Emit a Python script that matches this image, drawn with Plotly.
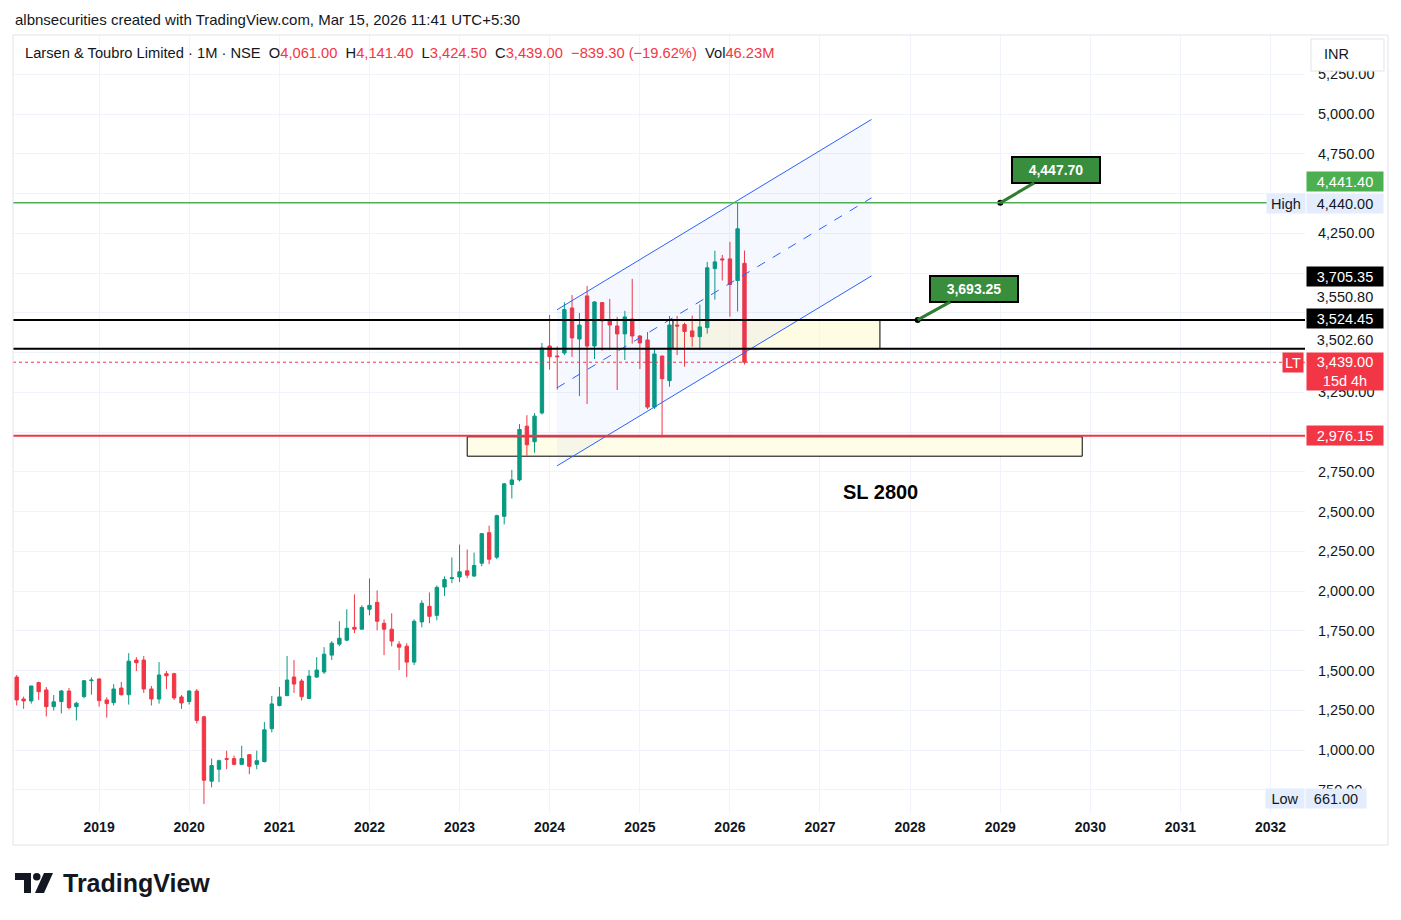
import pandas as pd
import plotly.graph_objects as go

# ---------------- data (monthly OHLC, Larsen & Toubro, NSE) ----------------
months = pd.date_range("2018-02-01", periods=98, freq="MS")

opens = [1459, 1321, 1309, 1424, 1378, 1273, 1305, 1371, 1273, 1336, 1436,
         1447, 1315, 1298, 1390, 1348, 1566, 1566, 1384, 1321, 1480, 1480, 1334,
         1305, 1371, 1209, 804, 879, 946, 946, 910, 971, 910, 927, 1134,
         1280, 1342, 1459, 1434, 1324, 1459, 1491, 1597, 1666, 1691, 1772, 1760,
         1885, 1929, 1797, 1760, 1666, 1653, 1553, 1806, 1904, 1847, 2025, 2079,
         2088, 2127, 2094, 2175, 2367, 2213, 2470, 2670, 2699, 3037, 2939, 3120,
         3541, 3478, 3497, 3780, 3585, 3856, 3541, 3814, 3705, 3667, 3617, 3711,
         3604, 3579, 3157, 3478, 3323, 3673, 3676, 3636, 3600, 3657, 4028, 4089,
         4089, 3953, 4061]
highs = [1472, 1336, 1403, 1430, 1396, 1346, 1378, 1390, 1303, 1440, 1457,
         1450, 1332, 1415, 1428, 1609, 1584, 1591, 1403, 1553, 1497, 1486, 1346,
         1378, 1384, 1215, 946, 940, 996, 965, 1027, 971, 996, 1177, 1340,
         1397, 1591, 1566, 1447, 1503, 1584, 1647, 1685, 1810, 1885, 1979, 1910,
         2079, 2004, 1822, 1860, 1685, 1672, 1822, 1941, 1991, 2035, 2092, 2211,
         2292, 2261, 2242, 2365, 2411, 2480, 2680, 2762, 3050, 3106, 3119, 3560,
         3736, 3539, 3816, 3862, 3749, 3919, 3824, 3818, 3837, 3724, 3762, 3963,
         3610, 3629, 3522, 3480, 3730, 3730, 3688, 3732, 3802, 4070, 4140, 4114,
         4196, 4441.4, 4141.4]
lows = [1280, 1259, 1292, 1315, 1211, 1248, 1230, 1255, 1186, 1326, 1348,
        1273, 1204, 1280, 1342, 1286, 1497, 1359, 1280, 1292, 1384, 1315, 1259,
        1286, 1167, 661, 766, 798, 879, 904, 910, 848, 879, 923, 1111,
        1275, 1342, 1359, 1311, 1324, 1453, 1478, 1566, 1653, 1685, 1735, 1760,
        1847, 1753, 1597, 1653, 1503, 1459, 1534, 1772, 1797, 1816, 1969, 2050,
        2056, 2081, 2090, 2156, 2169, 2200, 2419, 2582, 2689, 2851, 2870, 3110,
        3392, 3266, 3484, 3472, 3226, 3176, 3459, 3512, 3516, 3264, 3453, 3556,
        3396, 3144, 3145, 2967, 3285, 3484, 3411, 3537, 3518, 3619, 3833, 3953,
        3726, 3758, 3424.5]
closes = [1315, 1309, 1403, 1367, 1273, 1303, 1371, 1267, 1294, 1436, 1440,
          1311, 1292, 1384, 1348, 1559, 1549, 1384, 1321, 1472, 1467, 1328, 1296,
          1371, 1186, 810, 902, 933, 942, 910, 946, 898, 933, 1127, 1290,
          1334, 1440, 1415, 1336, 1465, 1503, 1603, 1672, 1703, 1766, 1760, 1897,
          1910, 1810, 1760, 1685, 1647, 1553, 1810, 1923, 1841, 2023, 2073, 2083,
          2121, 2100, 2161, 2361, 2200, 2474, 2674, 2699, 3016, 2920, 3100, 3529,
          3474, 3474, 3770, 3592, 3673, 3541, 3818, 3699, 3673, 3617, 3724, 3604,
          3560, 3157, 3491, 3335, 3673, 3667, 3632, 3600, 3661, 4033, 4070, 4083,
          3928, 4278.3, 3439]

year_ticks = ["2019", "2020", "2021", "2022", "2023", "2024", "2025",
              "2026", "2027", "2028", "2029", "2030", "2031", "2032"]
price_ticks = [750, 1000, 1250, 1500, 1750, 2000, 2250, 2500, 2750, 3000,
               3250, 3500, 3750, 4000, 4250, 4500, 4750, 5000, 5250]
# grid values whose scale labels are hidden behind the price-scale markers
hidden_ticks = [3000, 3500, 3750, 4000, 4500]

# drawing levels / tool values
level_high = 4441.40
level_black_top = 3705.35
level_black_bot = 3524.45
level_red = 2976.15
last_price = 3439.00
all_time_low = 661.00
chan_x = ["2024-01-31", "2027-07-29"]
chan_upper = [3769, 4966]
chan_mid = [3278, 4473]
chan_lower = [2787, 3982]
zone_big = dict(x0="2023-02-01", x1="2029-11-29", y0=2970, y1=2848)
zone_small = dict(x0="2025-05-15", x1="2027-09-01")
callout1 = dict(x="2029-01-01", y=4441.4, text="4,447.70")
callout2 = dict(x="2028-02-01", y=3705.35, text="3,693.25")

# ---------------- helpers (pixel -> paper) ----------------
L, R, T, B = 13, 1305, 35, 813
def px(x):
    return (x - L) / (R - L)
def py(y):
    return (B - y) / (B - T)

GREEN = "#089981"
RED = "#f23645"
TXT = "#131722"
FONT = "Liberation Sans"
SCALE_FS = 14.5

fig = go.Figure()

# channel fill (parallelogram)
fig.add_trace(go.Scatter(
    x=[chan_x[0], chan_x[1], chan_x[1], chan_x[0], chan_x[0]],
    y=[chan_upper[0], chan_upper[1], chan_lower[1], chan_lower[0], chan_upper[0]],
    fill="toself", fillcolor="rgba(41,98,255,0.045)", line=dict(width=0),
    mode="lines", hoverinfo="skip", showlegend=False))

fig.add_trace(go.Candlestick(
    x=months, open=opens, high=highs, low=lows, close=closes,
    increasing=dict(line=dict(color=GREEN, width=1), fillcolor=GREEN),
    decreasing=dict(line=dict(color=RED, width=1), fillcolor=RED),
    whiskerwidth=0, showlegend=False, name="LT"))

# channel lines
for ys, dash in [(chan_upper, "solid"), (chan_mid, "dash"), (chan_lower, "solid")]:
    fig.add_trace(go.Scatter(x=chan_x, y=ys, mode="lines",
                             line=dict(color="#2962ff", width=1, dash=dash),
                             hoverinfo="skip", showlegend=False))

# callout tip dots
fig.add_trace(go.Scatter(x=[callout1["x"], callout2["x"]],
                         y=[callout1["y"], callout2["y"]], mode="markers",
                         marker=dict(color="black", size=6), hoverinfo="skip",
                         showlegend=False))

shapes = []
# zones
shapes.append(dict(type="rect", xref="x", yref="y", layer="between",
                   x0=zone_big["x0"], x1=zone_big["x1"], y0=zone_big["y0"], y1=zone_big["y1"],
                   fillcolor="#fffde7", line=dict(color="black", width=1)))
shapes.append(dict(type="rect", xref="x", yref="y", layer="between",
                   x0=zone_small["x0"], x1=zone_small["x1"], y0=level_black_bot, y1=level_black_top,
                   fillcolor="rgba(255,249,196,0.45)", line=dict(color="black", width=1)))
# horizontal levels
shapes.append(dict(type="line", xref="paper", yref="y", x0=0, x1=1, y0=level_high, y1=level_high,
                   line=dict(color="#4caf50", width=1.5)))
for lv in (level_black_top, level_black_bot):
    shapes.append(dict(type="line", xref="paper", yref="y", x0=0, x1=1, y0=lv, y1=lv,
                       line=dict(color="black", width=2)))
shapes.append(dict(type="line", xref="paper", yref="y", x0=0, x1=1, y0=level_red, y1=level_red,
                   line=dict(color=RED, width=2)))
shapes.append(dict(type="line", xref="paper", yref="y", x0=0, x1=1, y0=last_price, y1=last_price,
                   line=dict(color=RED, width=1, dash="dot")))
# chart frame
shapes.append(dict(type="rect", xref="paper", yref="paper", x0=px(13), x1=px(1388), y0=py(845), y1=py(35),
                   line=dict(color="#e0e3eb", width=1), fillcolor="rgba(0,0,0,0)", layer="above"))
# INR button
shapes.append(dict(type="rect", xref="paper", yref="paper", x0=px(1311), x1=px(1384), y0=py(71), y1=py(39),
                   line=dict(color="#e0e3eb", width=1), fillcolor="white", layer="above"))
# TradingView logo
def path_px(pts):
    return "M" + " L".join(f"{px(a):.5f},{py(b):.5f}" for a, b in pts) + " Z"
shapes.append(dict(type="path", xref="paper", yref="paper",
                   path=path_px([(15, 873), (31, 873), (31, 893), (24, 893), (24, 880), (15, 880)]),
                   fillcolor=TXT, line=dict(width=0)))
shapes.append(dict(type="circle", xref="paper", yref="paper",
                   x0=px(33), x1=px(40.5), y0=py(880.5), y1=py(873),
                   fillcolor=TXT, line=dict(width=0)))
shapes.append(dict(type="path", xref="paper", yref="paper",
                   path=path_px([(44, 873), (53, 873), (44, 893), (35, 893)]),
                   fillcolor=TXT, line=dict(width=0)))

ann = []
# titles
ann.append(dict(xref="paper", yref="paper", x=px(13), y=py(19), xanchor="left", yanchor="middle",
                text="albnsecurities created with TradingView.com, Mar 15, 2026 11:41 UTC+5:30",
                showarrow=False, font=dict(size=15, color=TXT, family=FONT)))
r = lambda s: f"<span style='color:{RED}'>{s}</span>"
hdr = ("Larsen &amp; Toubro Limited · 1M · NSE  O" + r("4,061.00") + "  H" + r("4,141.40") +
       "  L" + r("3,424.50") + "  C" + r("3,439.00") + "  " + r("−839.30 (−19.62%)") +
       "  Vol" + r("46.23M"))
ann.append(dict(xref="paper", yref="paper", x=px(23), y=py(53), xanchor="left", yanchor="middle",
                text=hdr, showarrow=False, font=dict(size=14.7, color=TXT, family=FONT)))
ann.append(dict(xref="paper", yref="paper", x=px(1322), y=py(54), xanchor="left", yanchor="middle",
                text="INR", showarrow=False, font=dict(size=14.5, color=TXT, family=FONT)))
# SL text
ann.append(dict(xref="paper", yref="paper", x=px(880), y=py(492), xanchor="center", yanchor="middle",
                text="<b>SL 2800</b>", showarrow=False, font=dict(size=20, color="black", family=FONT)))
# logo text
ann.append(dict(xref="paper", yref="paper", x=px(61), y=py(883), xanchor="left", yanchor="middle",
                text="<b>TradingView</b>", showarrow=False, font=dict(size=25, color=TXT, family=FONT)))

# callouts
for c, dx, dy in [(callout1, 56, -33), (callout2, 56, -31)]:
    ann.append(dict(x=c["x"], y=c["y"], xref="x", yref="y", text="<b>" + c["text"] + "</b>",
                    showarrow=True, ax=dx, ay=dy, arrowhead=0, arrowwidth=3, arrowcolor="#2e7d32",
                    bgcolor="#388e3c", bordercolor="black", borderwidth=2, borderpad=4,
                    width=78, font=dict(size=14, color="white", family=FONT)))

# price-scale labels
def plabel(y, text, bg, fg, xc=1344.5, w=74, shift=0, h=None):
    d = dict(xref="paper", yref="y", x=px(xc), y=y, xanchor="center", yanchor="middle",
             text=text, showarrow=False, bgcolor=bg, width=w, yshift=shift, borderpad=1,
             font=dict(size=SCALE_FS, color=fg, family=FONT))
    if h:
        d["height"] = h
    ann.append(d)

plabel(level_high, "4,441.40", "#4caf50", "white", shift=21, h=17)
plabel(4440.00, "4,440.00", "#e3edfd", TXT, shift=0, h=17)
plabel(4440.00, "High", "#e3edfd", TXT, xc=1286, w=36, shift=0, h=17)
plabel(level_black_top, "3,705.35", "black", "white", shift=43, h=17)
plabel(3550.80, "3,550.80", "white", TXT, shift=47, h=14)
plabel(level_black_bot, "3,524.45", "black", "white", shift=30, h=17)
plabel(3502.60, "3,502.60", "white", TXT, shift=12, h=14)
plabel(last_price, "3,439.00<br>15d 4h", RED, "white", shift=-9, h=35)
plabel(last_price, "LT", RED, "white", xc=1292.5, w=18, shift=0, h=17)
plabel(level_red, "2,976.15", RED, "white", shift=0, h=17)
plabel(all_time_low, "661.00", "#e3edfd", TXT, xc=1336, w=58, shift=5, h=17)
plabel(all_time_low, "Low", "#e3edfd", TXT, xc=1285, w=36, shift=5, h=17)

price_text = ["" if v in hidden_ticks else f"{v:,.2f}" for v in price_ticks]

fig.update_layout(
    width=1401, height=920,
    margin=dict(l=L, r=1401 - R, t=T, b=920 - B),
    paper_bgcolor="white", plot_bgcolor="white",
    shapes=shapes, annotations=ann, showlegend=False,
    font=dict(family=FONT, color=TXT),
    xaxis=dict(type="date", range=["2018-01-17", "2032-05-20"],
               tickvals=[f"{y}-01-01" for y in year_ticks], ticktext=year_ticks,
               showgrid=True, gridcolor="#f0f3fa", gridwidth=1, zeroline=False,
               showline=False, ticks="", ticklabelstandoff=4,
               tickfont=dict(size=14, color=TXT, family=FONT, weight="bold"),
               rangeslider=dict(visible=False), fixedrange=True),
    yaxis=dict(side="right", range=[604, 5497], tickvals=price_ticks, ticktext=price_text,
               showgrid=True, gridcolor="#f0f3fa", gridwidth=1, zeroline=False,
               showline=False, ticks="", ticklabelstandoff=12,
               tickfont=dict(size=SCALE_FS, color=TXT, family=FONT), fixedrange=True),
)

fig.write_html("out.html")
